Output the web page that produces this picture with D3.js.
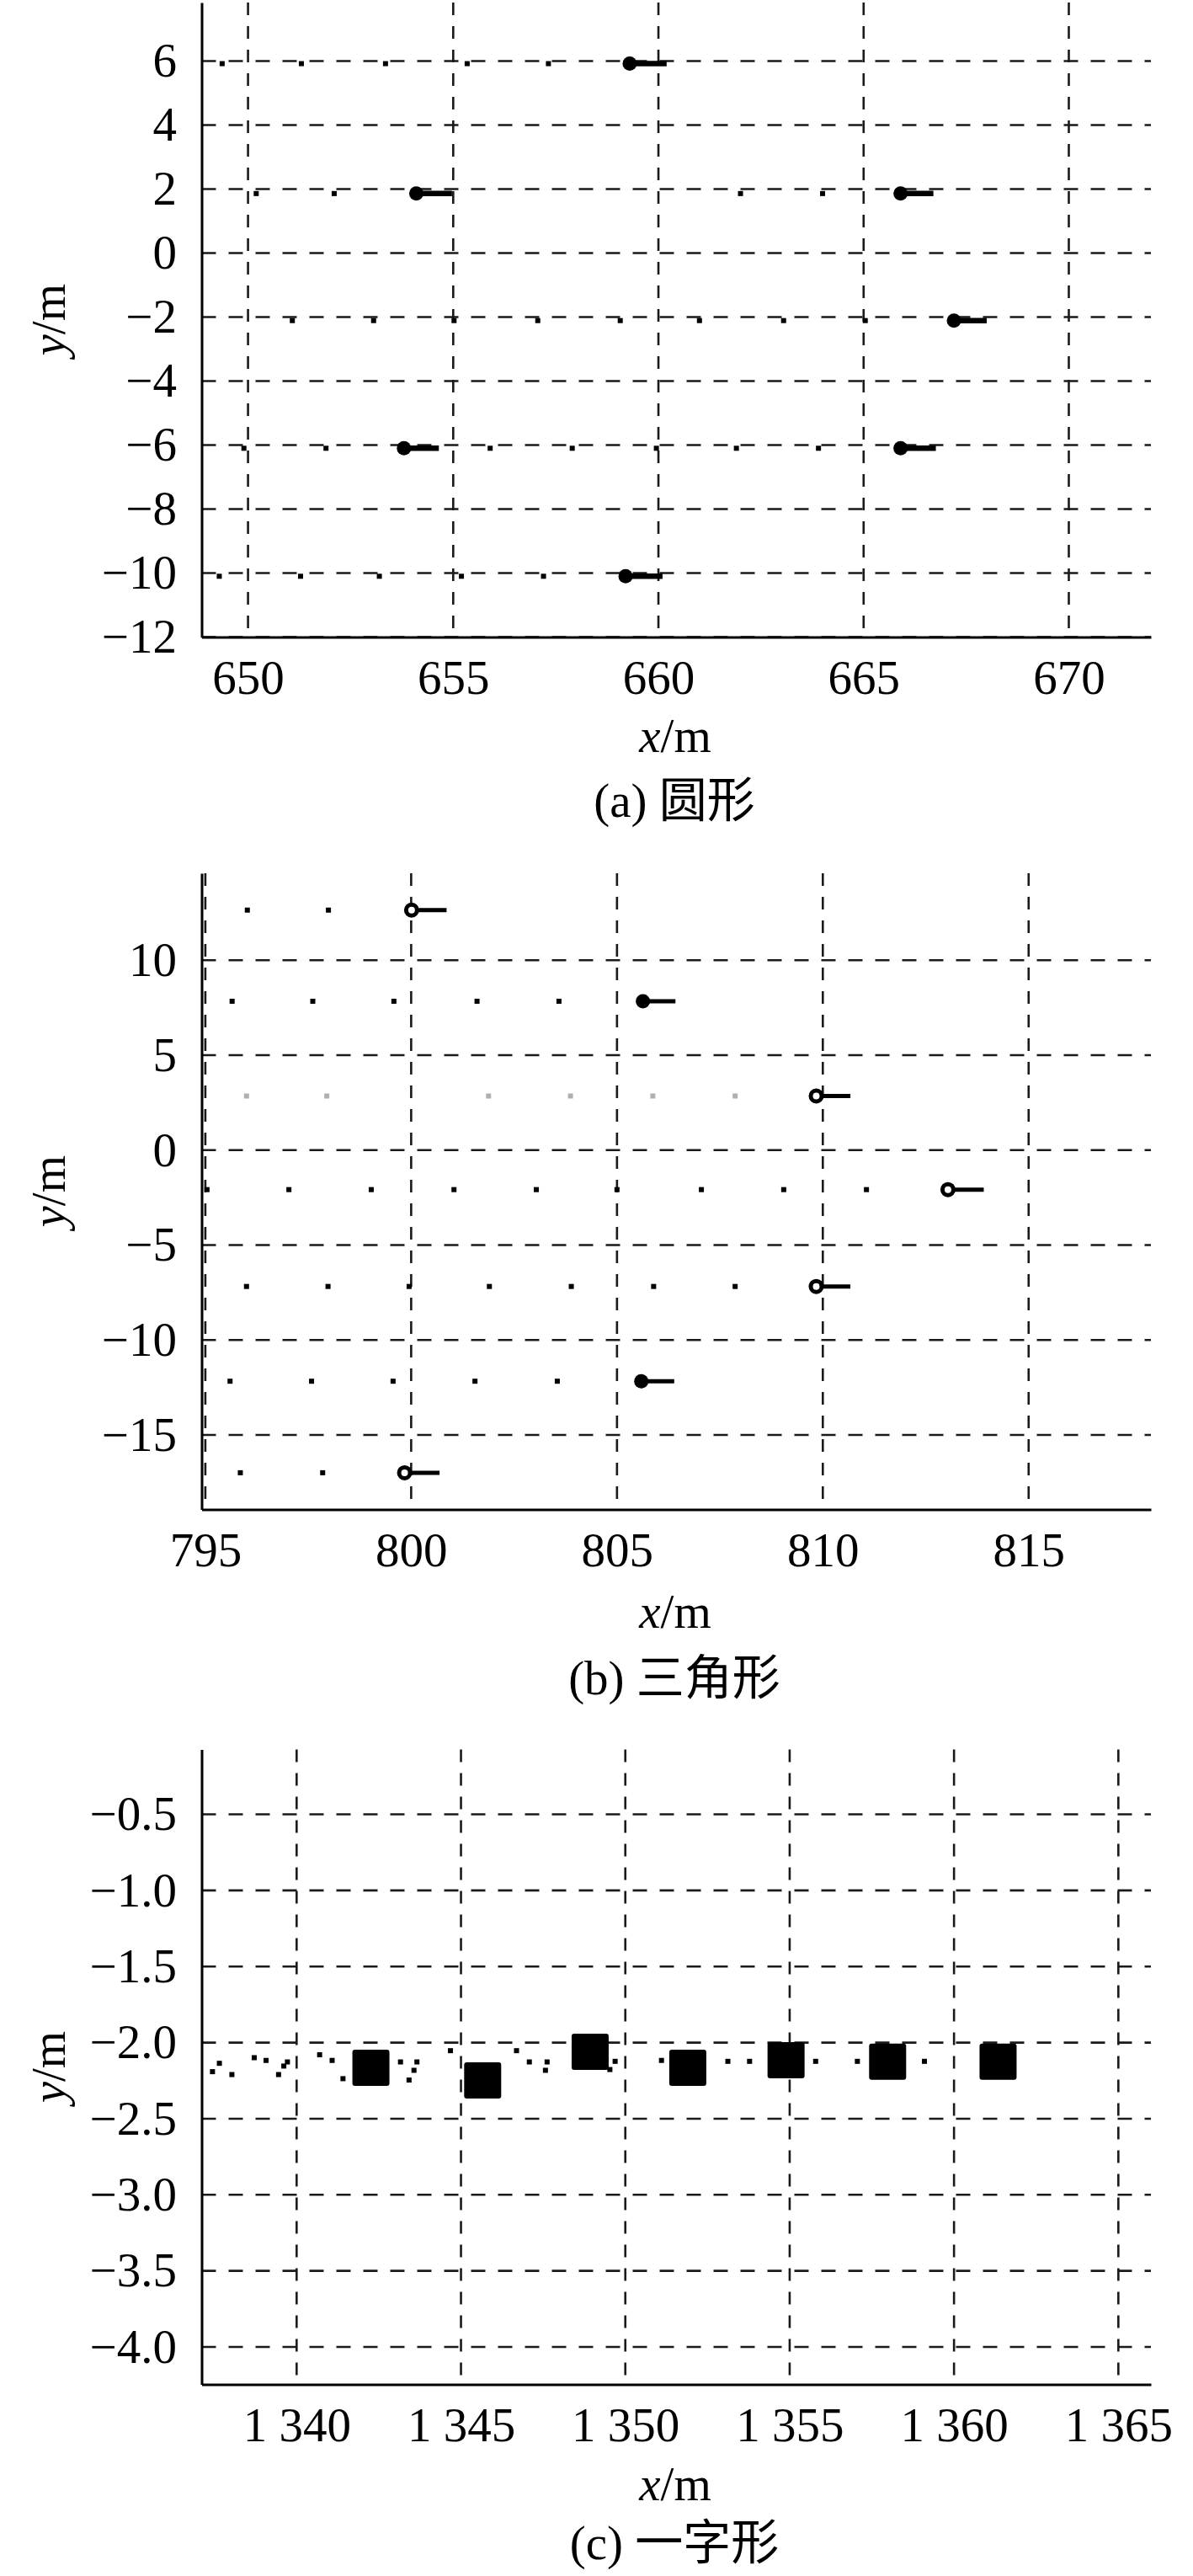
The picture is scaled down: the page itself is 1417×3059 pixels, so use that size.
<!DOCTYPE html>
<html>
<head>
<meta charset="utf-8">
<script src="https://cdn.jsdelivr.net/npm/d3@7"></script>
<style>
html,body{margin:0;padding:0;background:#fff;}
svg{display:block;}
svg text{font-family:"Liberation Serif","Times New Roman",Times,"DejaVu Serif","Noto Sans CJK SC",serif;}
</style>
</head>
<body>
<svg id="chart" width="1417" height="3059"></svg>
<script>
// ---------------- Panel (a) 圆形 ----------------
const aXTicks = [650, 655, 660, 665, 670];
const aYTicks = [6, 4, 2, 0, -2, -4, -6, -8, -10, -12];
const aXDomain = [648.87, 672.0];
const aYDomain = [-12, 7.83];
const aLeadX = [659.3, 654.1, 665.9, 667.2, 653.8, 665.9, 659.2];
const aLeadY = [5.92, 1.86, 1.86, -2.11, -6.1, -6.1, -10.1];
const aTailX = [660.2, 654.97, 666.7, 668.0, 654.65, 666.76, 660.1];
const aTrailX = [649.37, 651.3, 653.35, 655.34, 657.32,
                 650.2, 652.1, 662.0, 664.0,
                 651.08, 653.06, 655.02, 657.06, 659.07, 661.0, 663.05, 665.04,
                 649.9, 651.9, 655.9, 657.9, 659.95, 661.9, 663.9,
                 649.3, 651.28, 653.2, 655.2, 657.2];
const aTrailY = [5.92, 5.92, 5.92, 5.92, 5.92,
                 1.86, 1.86, 1.86, 1.86,
                 -2.11, -2.11, -2.11, -2.11, -2.11, -2.11, -2.11, -2.11,
                 -6.1, -6.1, -6.1, -6.1, -6.1, -6.1, -6.1,
                 -10.1, -10.1, -10.1, -10.1, -10.1];

// ---------------- Panel (b) 三角形 ----------------
const bXTicks = [795, 800, 805, 810, 815];
const bYTicks = [10, 5, 0, -5, -10, -15];
const bXDomain = [794.91, 817.97];
const bYDomain = [-18.92, 14.58];
const bLeadX = [800.01, 805.63, 809.84, 813.04, 809.84, 805.59, 799.84];
const bLeadY = [12.64, 7.84, 2.85, -2.08, -7.18, -12.17, -16.99];
const bTailX = [800.86, 806.42, 810.67, 813.91, 810.67, 806.39, 800.69];
const bLeadFilled = [false, true, false, false, false, true, false];
const bTrailX = [796.02, 797.99,
                 795.65, 797.61, 799.58, 801.6, 803.59,
                 796.0, 797.95, 801.88, 803.87, 805.87, 807.87,
                 795.04, 797.03, 799.03, 801.04, 803.04, 805.0, 807.05, 809.05, 811.06,
                 796.0, 797.98, 799.95, 801.9, 803.89, 805.89, 807.87,
                 795.6, 797.58, 799.56, 801.55, 803.55,
                 795.85, 797.85];
const bTrailY = [12.64, 12.64,
                 7.84, 7.84, 7.84, 7.84, 7.84,
                 2.85, 2.85, 2.85, 2.85, 2.85, 2.85,
                 -2.08, -2.08, -2.08, -2.08, -2.08, -2.08, -2.08, -2.08, -2.08,
                 -7.18, -7.18, -7.18, -7.18, -7.18, -7.18, -7.18,
                 -12.17, -12.17, -12.17, -12.17, -12.17,
                 -16.99, -16.99];
const bTrailFaint = [0, 0, 0, 0, 0, 0, 0, 1, 1, 1, 1, 1, 1,
                     0, 0, 0, 0, 0, 0, 0, 0, 0, 0, 0, 0, 0, 0, 0, 0,
                     0, 0, 0, 0, 0, 0, 0];

// ---------------- Panel (c) 一字形 ----------------
const cXTicks = [1340, 1345, 1350, 1355, 1360, 1365];
const cYTicks = [-0.5, -1.0, -1.5, -2.0, -2.5, -3.0, -3.5, -4.0];
const cXDomain = [1337.11, 1365.99];
const cYDomain = [-4.247, -0.074];
const cLeadX = [1342.26, 1345.66, 1348.93, 1351.9, 1354.89, 1357.98, 1361.34];
const cLeadY = [-2.166, -2.249, -2.06, -2.166, -2.116, -2.125, -2.125];
const cTrailX = [1337.44, 1337.65, 1338.03, 1338.71, 1339.07, 1339.45, 1339.61, 1339.72,
                 1340.70, 1341.08, 1341.41, 1343.16, 1343.42, 1343.57, 1343.66, 1344.68,
                 1346.69, 1347.08, 1347.57, 1347.62, 1349.53, 1349.69, 1351.1, 1353.12,
                 1353.78, 1355.79, 1357.06, 1359.1];
const cTrailY = [-2.191, -2.136, -2.21, -2.099, -2.117, -2.21, -2.154, -2.127,
                 -2.08, -2.117, -2.237, -2.127, -2.246, -2.182, -2.127, -2.053,
                 -2.053, -2.127, -2.182, -2.127, -2.177, -2.123, -2.117, -2.123,
                 -2.123, -2.123, -2.123, -2.123];

const captions = ["(a) 圆形", "(b) 三角形", "(c) 一字形"];

// ---------------- Drawing ----------------
const svg = d3.select("#chart");
const FONT = '"Liberation Serif","Times New Roman",Times,"DejaVu Serif","Noto Sans CJK SC",serif';
const FS = 57;
const PL = 239.5, PR = 1367;

function spaceThousands(n) {
  return d3.format(",")(n).replace(/,/g, " ");
}

const panels = [
  {xTicks: aXTicks, yTicks: aYTicks, xDomain: aXDomain, yDomain: aYDomain,
   top: 3, bottom: 756.5, xFmt: d3.format("d"), yFmt: d3.format("d"),
   leadX: aLeadX, leadY: aLeadY, tailX: aTailX, kind: "a",
   trailX: aTrailX, trailY: aTrailY, capOff: 213.5, xlOff: 136.2},
  {xTicks: bXTicks, yTicks: bYTicks, xDomain: bXDomain, yDomain: bYDomain,
   top: 1037, bottom: 1792.4, xFmt: d3.format("d"), yFmt: d3.format("d"),
   leadX: bLeadX, leadY: bLeadY, tailX: bTailX, filled: bLeadFilled, kind: "b",
   trailX: bTrailX, trailY: bTrailY, faint: bTrailFaint, capOff: 220, xlOff: 140.5},
  {xTicks: cXTicks, yTicks: cYTicks, xDomain: cXDomain, yDomain: cYDomain,
   top: 2077.6, bottom: 2831.6, xFmt: spaceThousands, yFmt: d3.format(".1f"),
   leadX: cLeadX, leadY: cLeadY, kind: "c",
   trailX: cTrailX, trailY: cTrailY, capOff: 207, xlOff: 137}
];

panels.forEach((p, i) => {
  const x = d3.scaleLinear().domain(p.xDomain).range([PL, PR]);
  const y = d3.scaleLinear().domain(p.yDomain).range([p.bottom, p.top]);
  const g = svg.append("g");

  // grid lines
  g.append("g").selectAll("line").data(p.yTicks).join("line")
    .attr("x1", PL).attr("x2", PR)
    .attr("y1", d => y(d)).attr("y2", d => y(d))
    .attr("stroke", "#1a1a1a").attr("stroke-width", 2.6)
    .attr("stroke-dasharray", "17 15");
  g.append("g").selectAll("line").data(p.xTicks).join("line")
    .attr("x1", d => x(d)).attr("x2", d => x(d))
    .attr("y1", p.top).attr("y2", p.bottom)
    .attr("stroke", "#1a1a1a").attr("stroke-width", 2.6)
    .attr("stroke-dasharray", "15 13");

  // trail dots
  const trail = p.trailX.map((v, k) => ({x: v, y: p.trailY[k], f: p.faint ? p.faint[k] : 0}));
  g.append("g").selectAll("rect").data(trail).join("rect")
    .attr("x", d => x(d.x) - 3).attr("y", d => y(d.y) - 3)
    .attr("width", 6).attr("height", 6)
    .attr("fill", d => d.f ? "#b0b0b0" : "#000");

  const leads = p.leadX.map((v, k) => ({
    x: v, y: p.leadY[k], t: p.tailX ? p.tailX[k] : null,
    filled: p.filled ? p.filled[k] : true
  }));

  if (p.kind === "c") {
    g.append("g").selectAll("rect").data(leads).join("rect")
      .attr("x", d => x(d.x) - 22).attr("y", d => y(d.y) - 21.5)
      .attr("width", 44).attr("height", 43).attr("rx", 3)
      .attr("fill", "#000");
  } else {
    const tw = p.kind === "a" ? 6.5 : 5;
    g.append("g").selectAll("line").data(leads).join("line")
      .attr("x1", d => x(d.x)).attr("x2", d => x(d.t))
      .attr("y1", d => y(d.y)).attr("y2", d => y(d.y))
      .attr("stroke", "#000").attr("stroke-width", tw);
    g.append("g").selectAll("circle").data(leads).join("circle")
      .attr("cx", d => x(d.x)).attr("cy", d => y(d.y))
      .attr("r", d => d.filled ? 8.5 : 6.5)
      .attr("fill", d => d.filled ? "#000" : "#fff")
      .attr("stroke", "#000")
      .attr("stroke-width", d => d.filled ? 0 : 5);
  }

  // axes
  const yAxis = d3.axisLeft(y).tickValues(p.yTicks).tickSize(0).tickPadding(29.5).tickFormat(p.yFmt);
  const xAxis = d3.axisBottom(x).tickValues(p.xTicks).tickSize(0).tickPadding(27).tickFormat(p.xFmt);
  const ya = g.append("g").attr("transform", `translate(${PL},0)`).call(yAxis);
  const xa = g.append("g").attr("transform", `translate(0,${p.bottom})`).call(xAxis);
  [ya, xa].forEach(a => {
    a.attr("font-family", null).attr("font-size", FS);
    a.select(".domain").attr("stroke", "#000").attr("stroke-width", 3);
    a.selectAll("text").attr("fill", "#000").style("font-family", FONT).style("font-size", FS + "px");
  });

  // axis titles
  const xl = g.append("text")
    .attr("x", 802).attr("y", p.bottom + p.xlOff)
    .attr("text-anchor", "middle")
    .style("font-family", FONT).style("font-size", FS + "px");
  xl.append("tspan").style("font-style", "italic").text("x");
  xl.append("tspan").text("/m");

  const yl = g.append("text")
    .attr("transform", `translate(77,${(p.top + p.bottom) / 2}) rotate(-90)`)
    .attr("text-anchor", "middle")
    .style("font-family", FONT).style("font-size", FS + "px");
  yl.append("tspan").style("font-style", "italic").text("y");
  yl.append("tspan").text("/m");

  // caption (Latin in serif, Chinese falls back to CJK font)
  g.append("text")
    .attr("x", 801).attr("y", p.bottom + p.capOff)
    .attr("text-anchor", "middle")
    .style("font-family", FONT).style("font-size", FS + "px")
    .text(captions[i]);
});
</script>
</body>
</html>
